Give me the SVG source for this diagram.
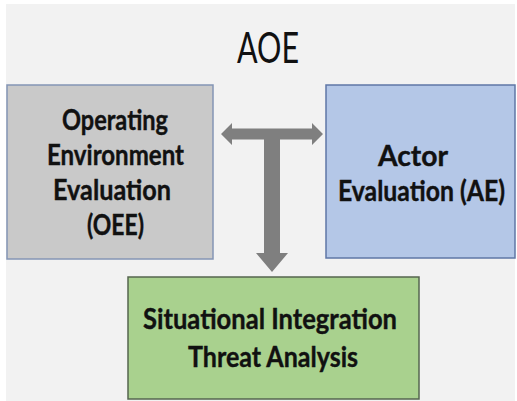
<svg xmlns="http://www.w3.org/2000/svg" width="517" height="401" viewBox="0 0 517 401">
  <style>
    .box { stroke-width: 1.5; }
    .lbl { font-family: Lato, "Open Sans", "Noto Sans", sans-serif; font-weight: bold; font-size: 29px; fill: #111111; text-anchor: middle; stroke: #111111; stroke-width: 0.4; }
    .title { font-family: Lato, "Open Sans", "Noto Sans", sans-serif; font-size: 43px; fill: #111111; text-anchor: middle; }
    .arrow { fill: #7f7f7f; }
  </style>

  <!-- page background -->
  <rect x="0" y="0" width="517" height="401" fill="#ffffff"/>
  <rect x="6" y="4" width="509" height="397" fill="#f2f2f2"/>

  <text class="title" x="268" y="63" textLength="62" lengthAdjust="spacingAndGlyphs">AOE</text>

  <g id="oee">
    <rect class="box" x="7" y="85" width="206" height="174" fill="#c9c9c9" stroke="#8495b5"/>
    <text class="lbl" x="115" y="130" textLength="106" lengthAdjust="spacingAndGlyphs">Operating</text>
    <text class="lbl" x="115.5" y="164.5" textLength="137" lengthAdjust="spacingAndGlyphs">Environment</text>
    <text class="lbl" x="112" y="199.5" textLength="118" lengthAdjust="spacingAndGlyphs">Evaluation</text>
    <text class="lbl" x="115.5" y="234.5" textLength="57" lengthAdjust="spacingAndGlyphs">(OEE)</text>
  </g>

  <g id="ae">
    <rect class="box" x="326" y="85" width="189" height="173" fill="#b4c7e7" stroke="#5f77a6"/>
    <text class="lbl" x="413" y="165.5" textLength="70" lengthAdjust="spacingAndGlyphs">Actor</text>
    <text class="lbl" x="421.5" y="200.5" textLength="167" lengthAdjust="spacingAndGlyphs">Evaluation (AE)</text>
  </g>

  <g id="sita">
    <rect class="box" x="128" y="277" width="291" height="122" fill="#a9d18e" stroke="#56654f"/>
    <text class="lbl" x="270" y="329" textLength="254" lengthAdjust="spacingAndGlyphs">Situational Integration</text>
    <text class="lbl" x="273" y="366.5" textLength="170" lengthAdjust="spacingAndGlyphs">Threat Analysis</text>
  </g>

  <g id="connectors">
    <!-- T-shaped arrow: two-way link between the upper boxes, branch down to the lower box -->
    <polygon class="arrow" points="221,134 232,123 232,128.5 312,128.5 312,123 323,134 312,145 312,139.5 280,139.5 280,253 288,253 272,272 256,253 264,253 264,139.5 232,139.5 232,145"/>
  </g>
</svg>
